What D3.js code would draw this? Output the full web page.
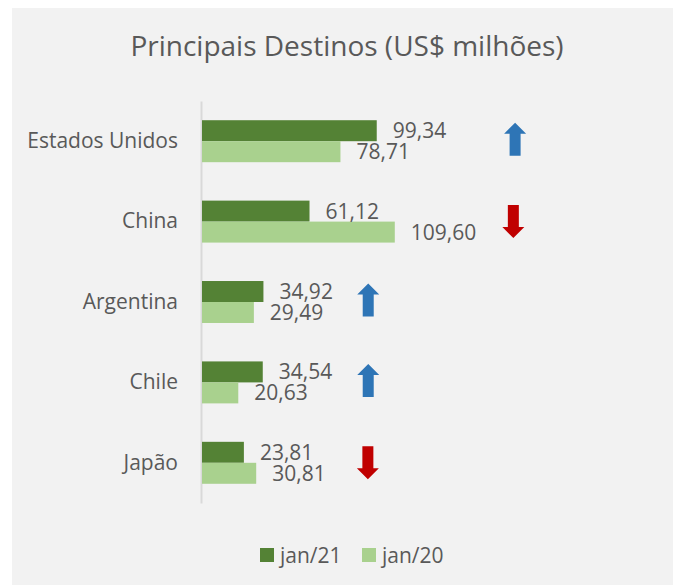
<!DOCTYPE html>
<html>
<head>
<meta charset="utf-8">
<script src="https://cdn.jsdelivr.net/npm/d3@7"></script>
<style>
  body { margin: 0; background: #fff; }
  svg text { font-family: "Open Sans", sans-serif; fill: #595959; }
</style>
</head>
<body>
<div id="chart"></div>
<script>
var categories = ["Estados Unidos", "China", "Argentina", "Chile", "Japão"];
var seriesNames = ["jan/21", "jan/20"];
var jan21 = [99.34, 61.12, 34.92, 34.54, 23.81];
var jan20 = [78.71, 109.60, 29.49, 20.63, 30.81];
// where the trend arrows sit, in US$ milhões along the x axis
var arrowAt = [178, 177, 94.5, 94.5, 94.3];

var colors = ["#548235", "#a9d18e"];
var fmt = function(v) { return d3.format(".2f")(v).replace(".", ","); };

var svg = d3.select("#chart").append("svg")
    .attr("width", 673)
    .attr("height", 585);

svg.append("rect")
    .attr("x", 12).attr("y", 8)
    .attr("width", 661).attr("height", 577)
    .attr("fill", "#f2f2f2");

svg.append("text")
    .attr("x", 347)
    .attr("y", 56)
    .attr("text-anchor", "middle")
    .style("font-size", "28px")
    .text("Principais Destinos (US$ milhões)");

var y = d3.scaleBand()
    .domain(categories)
    .range([101, 503])
    .paddingInner(0.478)
    .paddingOuter(0.239);

var ySub = d3.scaleBand()
    .domain(seriesNames)
    .range([0, y.bandwidth()]);

var x = d3.scaleLinear()
    .domain([0, 100])
    .range([202, 377.9]);

var rows = categories.map(function(c, i) {
    return { cat: c, vals: [jan21[i], jan20[i]], arrow: arrowAt[i], up: jan21[i] > jan20[i] };
});

var yAxis = svg.append("g")
    .attr("transform", "translate(201,0)")
    .call(d3.axisLeft(y).tickSize(0).tickPadding(23));
yAxis.select(".domain").attr("stroke", "#d9d9d9").attr("stroke-width", 2);
yAxis.selectAll("text")
    .style("font-size", "21px")
    .style("font-family", "'Open Sans', sans-serif")
    .attr("fill", "#595959");

var group = svg.selectAll(".grp")
    .data(rows)
    .enter().append("g")
    .attr("class", "grp")
    .attr("transform", function(d) { return "translate(0," + y(d.cat) + ")"; });

group.selectAll("rect")
    .data(function(d) { return d.vals; })
    .enter().append("rect")
    .attr("x", x(0))
    .attr("y", function(d, i) { return ySub(seriesNames[i]); })
    .attr("width", function(d) { return x(d) - x(0); })
    .attr("height", ySub.bandwidth())
    .attr("fill", function(d, i) { return colors[i]; });

group.selectAll(".lbl")
    .data(function(d) { return d.vals; })
    .enter().append("text")
    .attr("class", "lbl")
    .attr("x", function(d) { return x(d) + 16; })
    .attr("y", function(d, i) { return ySub(seriesNames[i]) + ySub.bandwidth() / 2; })
    .attr("dy", "0.36em")
    .style("font-size", "21px")
    .text(function(d) { return fmt(d); });

// up / down arrows
function arrowPath(up) {
    var h = 16.5, hw = 11, sw = 5.5, hh = 11;
    if (up) {
        return "M0," + (-h) + "L" + hw + "," + (-h + hh) + "L" + sw + "," + (-h + hh) +
            "L" + sw + "," + h + "L" + (-sw) + "," + h + "L" + (-sw) + "," + (-h + hh) +
            "L" + (-hw) + "," + (-h + hh) + "Z";
    }
    return "M0," + h + "L" + hw + "," + (h - hh) + "L" + sw + "," + (h - hh) +
        "L" + sw + "," + (-h) + "L" + (-sw) + "," + (-h) + "L" + (-sw) + "," + (h - hh) +
        "L" + (-hw) + "," + (h - hh) + "Z";
}

group.append("path")
    .attr("transform", function(d) { return "translate(" + x(d.arrow) + "," + (y.bandwidth() / 2 - (d.up ? 2 : 0)) + ")"; })
    .attr("d", function(d) { return arrowPath(d.up); })
    .attr("fill", function(d) { return d.up ? "#2e75b6" : "#c00000"; });

// legend
var legend = svg.selectAll(".leg")
    .data(seriesNames)
    .enter().append("g")
    .attr("class", "leg")
    .attr("transform", function(d, i) { return "translate(" + (260 + i * 102) + ",548)"; });

legend.append("rect")
    .attr("width", 14).attr("height", 14)
    .attr("fill", function(d, i) { return colors[i]; });

legend.append("text")
    .attr("x", 20)
    .attr("y", 7)
    .attr("dy", "0.36em")
    .style("font-size", "21px")
    .text(function(d) { return d; });
</script>
</body>
</html>
